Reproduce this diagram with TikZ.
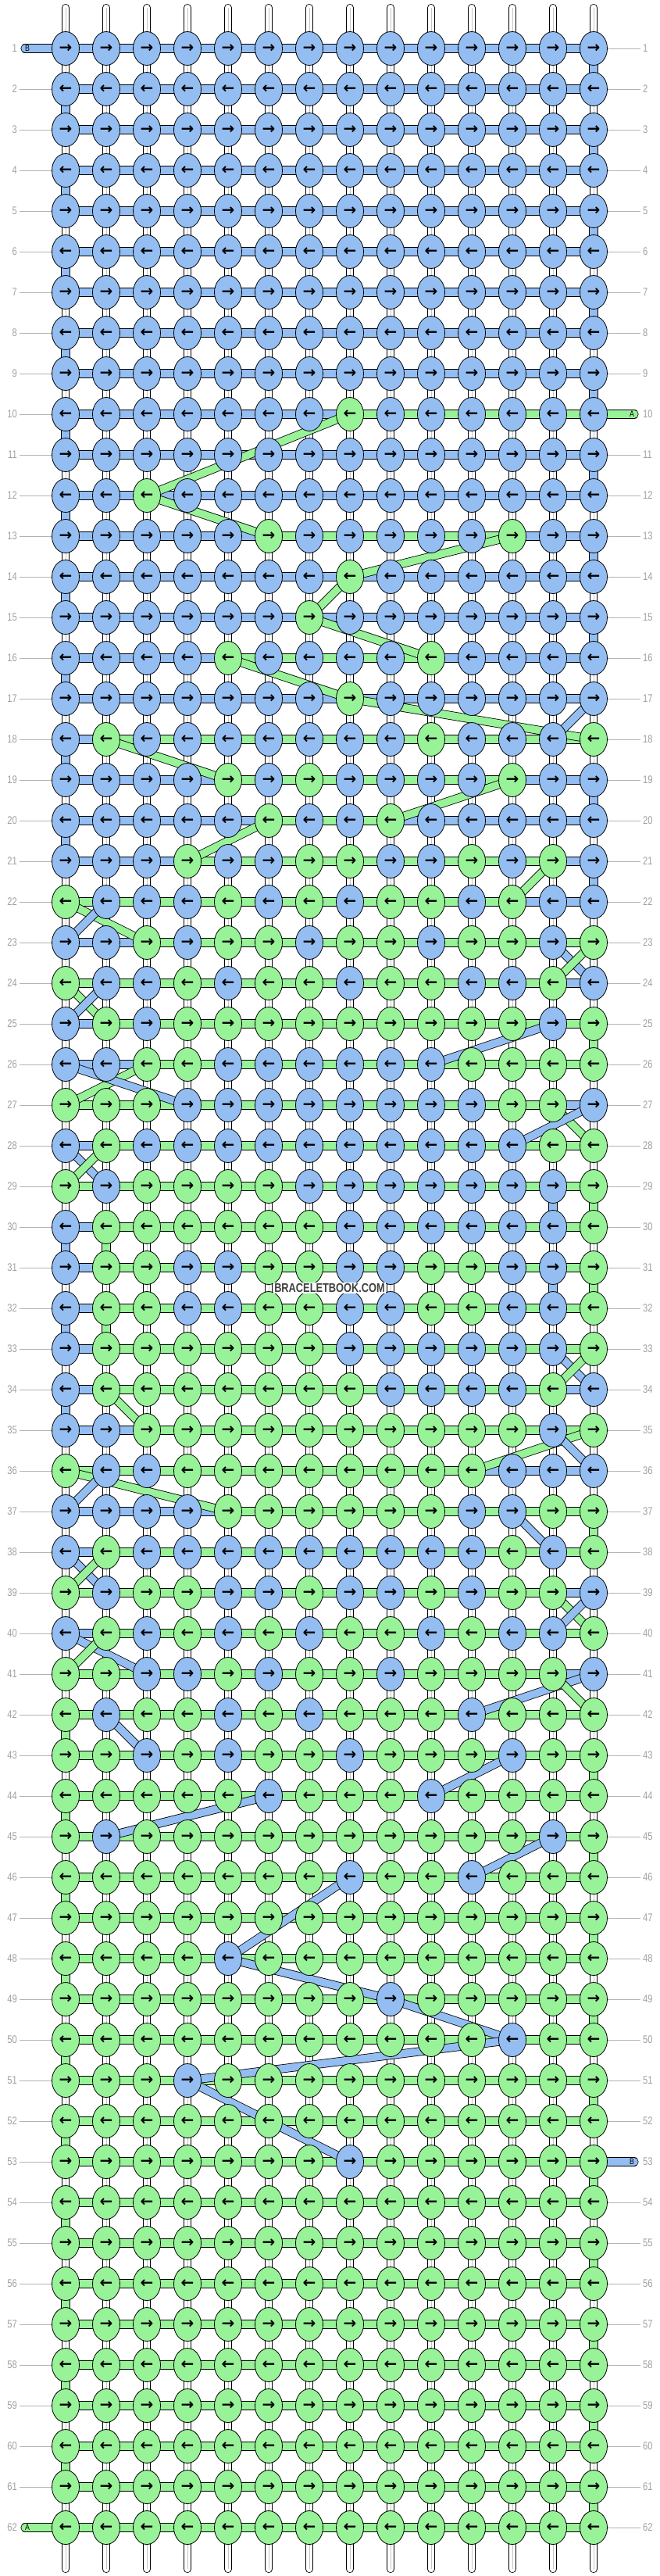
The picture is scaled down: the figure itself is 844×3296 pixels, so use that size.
\documentclass[tikz,border=0pt]{standalone}
\usepackage{fontspec}
\usepackage{xstring}
\usetikzlibrary{shapes.geometric}
\newfontfamily\labfont{Liberation Sans}[FakeStretch=0.8]
\newfontfamily\markfont{Liberation Sans Bold}[FakeStretch=0.8]
\newfontfamily\arrowfont{DejaVu Sans Bold}
\definecolor{cB}{RGB}{148,190,242}
\definecolor{cG}{RGB}{152,242,152}
\definecolor{labgray}{RGB}{160,160,160}
\pgfdeclarelayer{tubes}
\pgfdeclarelayer{strands}
\pgfdeclarelayer{bands}
\pgfsetlayers{tubes,strands,bands,main}

\begin{document}
\begin{tikzpicture}[
    x=1pt, y=-1pt,
    knot/.style={ellipse, draw, line width=0.8pt, minimum width=35pt, minimum height=43pt,
        inner sep=0pt, font=\arrowfont\fontsize{20}{20}\selectfont},
    strand/.style={draw=black, line width=0.8pt, double=#1, double distance=9.5pt},
    tab/.style={strand=#1, line cap=round},
    tube/.style={draw=black, line width=0.8pt, double=white, double distance=8.5pt, line cap=round},
    tabtext/.style={font=\labfont\fontsize{11}{11}\selectfont, inner sep=0pt},
    rowlabel/.style={font=\labfont\fontsize{14}{14}\selectfont, text=labgray, inner sep=3pt},
    guide/.style={draw=labgray!80, line width=0.8pt}
]
\useasboundingbox (0,0) rectangle (844,3296);

% Knots
\foreach \rr/\s in {
  1/BBBBBBBBBBBBBB, 2/BBBBBBBBBBBBBB, 3/BBBBBBBBBBBBBB, 4/BBBBBBBBBBBBBB,
  5/BBBBBBBBBBBBBB, 6/BBBBBBBBBBBBBB, 7/BBBBBBBBBBBBBB, 8/BBBBBBBBBBBBBB,
  9/BBBBBBBBBBBBBB, 10/BBBBBBBGBBBBBB, 11/BBBBBBBBBBBBBB, 12/BBGBBBBBBBBBBB,
  13/BBBBBGBBBBBGBB, 14/BBBBBBBGBBBBBB, 15/BBBBBBGBBBBBBB, 16/BBBBGBBBBGBBBB,
  17/BBBBBBBGBBBBBB, 18/BGBBBBBBBGBBBG, 19/BBBBGBGBBBBGBB, 20/BBBBBGBBGBBBBB,
  21/BBBGBBGGBBGBGB, 22/GBBBGBGBGGBGBB, 23/BBGBGGBGGBGGBG, 24/GBBGBGGBGGBBGB,
  25/BGBGGGGGGGGGBG, 26/BBGGBBBBBBGGGG, 27/GGGBBBBBBBBGGB, 28/BGBBBBBBBBBBGG,
  29/GBGGGGBBBBBBBG, 30/BGGGGGGBBBBBBG, 31/BGGBBGGBBGGBBG, 32/BGGBBGGBBGGBBG,
  33/BGGGGGGBBBBBBG, 34/BGGGGGGGBBBBGB, 35/BBGGGGGGGGGGBG, 36/GBBGGGGGGGGBBB,
  37/BBBBGGGGGGBBGG, 38/BGBBBBBBBBBGBG, 39/GBGGBBGBBGBGGB, 40/BGBGBGBGGBGBBG,
  41/GGBBGBGGBGGGGB, 42/GBGGBGBGGGBGGG, 43/GGBGBGGBGGGBGG, 44/GGGGGBGGGBGGGG,
  45/GBGGGGGGGGGGBG, 46/GGGGGGGBGGBGGG, 47/GGGGGGGGGGGGGG, 48/GGGGBGGGGGGGGG,
  49/GGGGGGGGBGGGGG, 50/GGGGGGGGGGGBGG, 51/GGGBGGGGGGGGGG, 52/GGGGGGGGGGGGGG,
  53/GGGGGGGBGGGGGG, 54/GGGGGGGGGGGGGG, 55/GGGGGGGGGGGGGG, 56/GGGGGGGGGGGGGG,
  57/GGGGGGGGGGGGGG, 58/GGGGGGGGGGGGGG, 59/GGGGGGGGGGGGGG, 60/GGGGGGGGGGGGGG,
  61/GGGGGGGGGGGGGG, 62/GGGGGGGGGGGGGG}{
  \foreach \cc in {1,...,14}{
    \StrChar{\s}{\cc}[\k]
    \node[knot, fill=c\k] (k\rr-\cc) at ({84+52*(\cc-1)},{62+52*(\rr-1)}) {\ifodd\rr →\else ←\fi};
  }
}

% Row numbers
\foreach \rr in {1,...,62}{
  \node[rowlabel, anchor=east] (ll\rr) at (25,{62+52*(\rr-1)}) {\rr};
  \node[rowlabel, anchor=west] (rl\rr) at (820,{62+52*(\rr-1)}) {\rr};
}
\foreach \rr in {2,...,61} \draw[guide] (ll\rr.east) -- (k\rr-1.west);
\foreach \rr in {1,...,9,11,12,...,52,54,55,...,62} \draw[guide] (k\rr-14.east) -- (rl\rr.west);

% Vertical strands
\begin{pgfonlayer}{tubes}
\foreach \cc in {1,...,14}{
  \coordinate (top\cc) at ({84+52*(\cc-1)},10);
  \coordinate (bot\cc) at ({84+52*(\cc-1)},3287);
  \draw[tube] (top\cc) -- (bot\cc);
  \draw[gray!45, line width=0.4pt] (top\cc) -- (bot\cc);
}
\end{pgfonlayer}

\begin{pgfonlayer}{strands}
% working strand, blue first
\foreach \rr in {1,...,62}{
  \foreach \cc [evaluate=\cc as \nn using int(\cc+1)] in {1,...,13}
    \draw[strand=cB] (k\rr-\cc.center) -- (k\rr-\nn.center);
}
% green stretches
\foreach \rr/\ga/\gb in {10/8/14, 13/6/12, 16/5/10, 18/2/14, 19/5/12, 20/6/9,
    21/4/13, 22/1/12, 23/3/14, 24/1/13, 25/2/14, 26/3/14, 27/1/13, 28/2/14,
    29/1/14, 30/2/14, 31/2/14, 32/2/14, 33/2/14, 34/2/13, 35/3/14, 36/1/11,
    37/5/14, 38/2/14, 39/1/13, 40/2/14, 41/1/13}{
  \pgfmathtruncatemacro\gm{\gb-1}
  \foreach \cc [evaluate=\cc as \nn using int(\cc+1)] in {\ga,...,\gm}
    \draw[strand=cG] (k\rr-\cc.center) -- (k\rr-\nn.center);
}
\foreach \rr in {42,...,62}{
  \foreach \cc [evaluate=\cc as \nn using int(\cc+1)] in {1,...,13}
    \draw[strand=cG] (k\rr-\cc.center) -- (k\rr-\nn.center);
}
% turns at the edges
\foreach \rr/\cl in {1/B,2/B,3/B,4/B,5/B,6/B,7/B,8/B,9/B,10/B,11/B,12/B,13/B,14/B,
    15/B,16/B,18/B,19/B,20/B,21/B,25/G,29/G,30/B,31/G,32/B,34/B,37/G,
    42/G,43/G,44/G,45/G,46/G,47/G,48/G,49/G,50/G,51/G,52/G,53/G,54/G,55/G,
    56/G,57/G,58/G,59/G,60/G,61/G}{
  \pgfmathtruncatemacro\ec{mod(\rr,2)==1 ? 14 : 1}
  \pgfmathtruncatemacro\rn{\rr+1}
  \draw[strand=c\cl] (k\rr-\ec.center) -- (k\rn-\ec.center);
}
% straight drops
\foreach \rr/\cc/\cl in {29/13/B, 30/2/G, 31/13/B, 32/2/G}{
  \pgfmathtruncatemacro\rn{\rr+1}
  \draw[strand=c\cl] (k\rr-\cc.center) -- (k\rn-\cc.center);
}
% loose ends
\coordinate (inB) at (32,62);
\coordinate (inA) at (812,530);
\coordinate (outB) at (812,2766);
\coordinate (outA) at (32,3234);
\draw[tab=cB] (inB) -- (k1-1.center);
\draw[tab=cG] (k10-14.center) -- (inA);
\draw[tab=cB] (k53-14.center) -- (outB);
\draw[tab=cG] (outA) -- (k62-1.center);
\end{pgfonlayer}
\node[tabtext] (lB1) at (35,62) {B};
\node[tabtext] (lA10) at (809,530) {A};
\node[tabtext] (lB53) at (809,2766) {B};
\node[tabtext] (lA62) at (35,3234) {A};

% Strands moving between rows
\begin{pgfonlayer}{bands}
\foreach \ra/\ca/\rb/\cb/\cl in {10/8/12/3/G, 12/3/13/6/G, 13/12/14/8/G, 14/8/15/7/G,
    15/7/16/10/G, 16/5/17/8/G, 17/8/18/14/G, 17/14/18/13/B, 18/2/19/5/G,
    19/12/20/9/G, 20/6/21/4/G, 21/13/22/12/G, 22/1/23/3/G, 22/2/23/1/B,
    23/13/24/14/B, 23/14/24/13/G, 24/1/25/2/G, 24/2/25/1/B, 25/13/26/10/B,
    26/3/27/1/G, 26/1/27/4/B, 27/13/28/14/G, 27/14/28/12/B, 28/1/29/2/B,
    28/2/29/1/G, 33/13/34/14/B, 33/14/34/13/G, 34/2/35/3/G, 35/14/36/11/G,
    35/13/36/14/B, 36/1/37/5/G, 36/2/37/1/B, 37/12/38/13/B, 38/1/39/2/B,
    38/2/39/1/G, 39/13/40/14/G, 39/14/40/13/B, 40/1/41/3/B, 40/2/41/1/G,
    41/14/42/11/B, 41/13/42/14/G, 42/2/43/3/B, 43/12/44/10/B, 44/6/45/2/B,
    45/13/46/11/B, 46/8/48/5/B, 48/5/49/9/B, 49/9/50/12/B, 50/12/51/4/B,
    51/4/53/8/B}
  \draw[strand=c\cl] (k\ra-\ca.center) -- (k\rb-\cb.center);
\end{pgfonlayer}

% Watermark
\node[font=\markfont\fontsize{16}{16}\selectfont, text=black!75, fill=white, inner sep=1pt] (mark) at (422,1648) {BRACELETBOOK.COM};

\end{tikzpicture}
\end{document}
